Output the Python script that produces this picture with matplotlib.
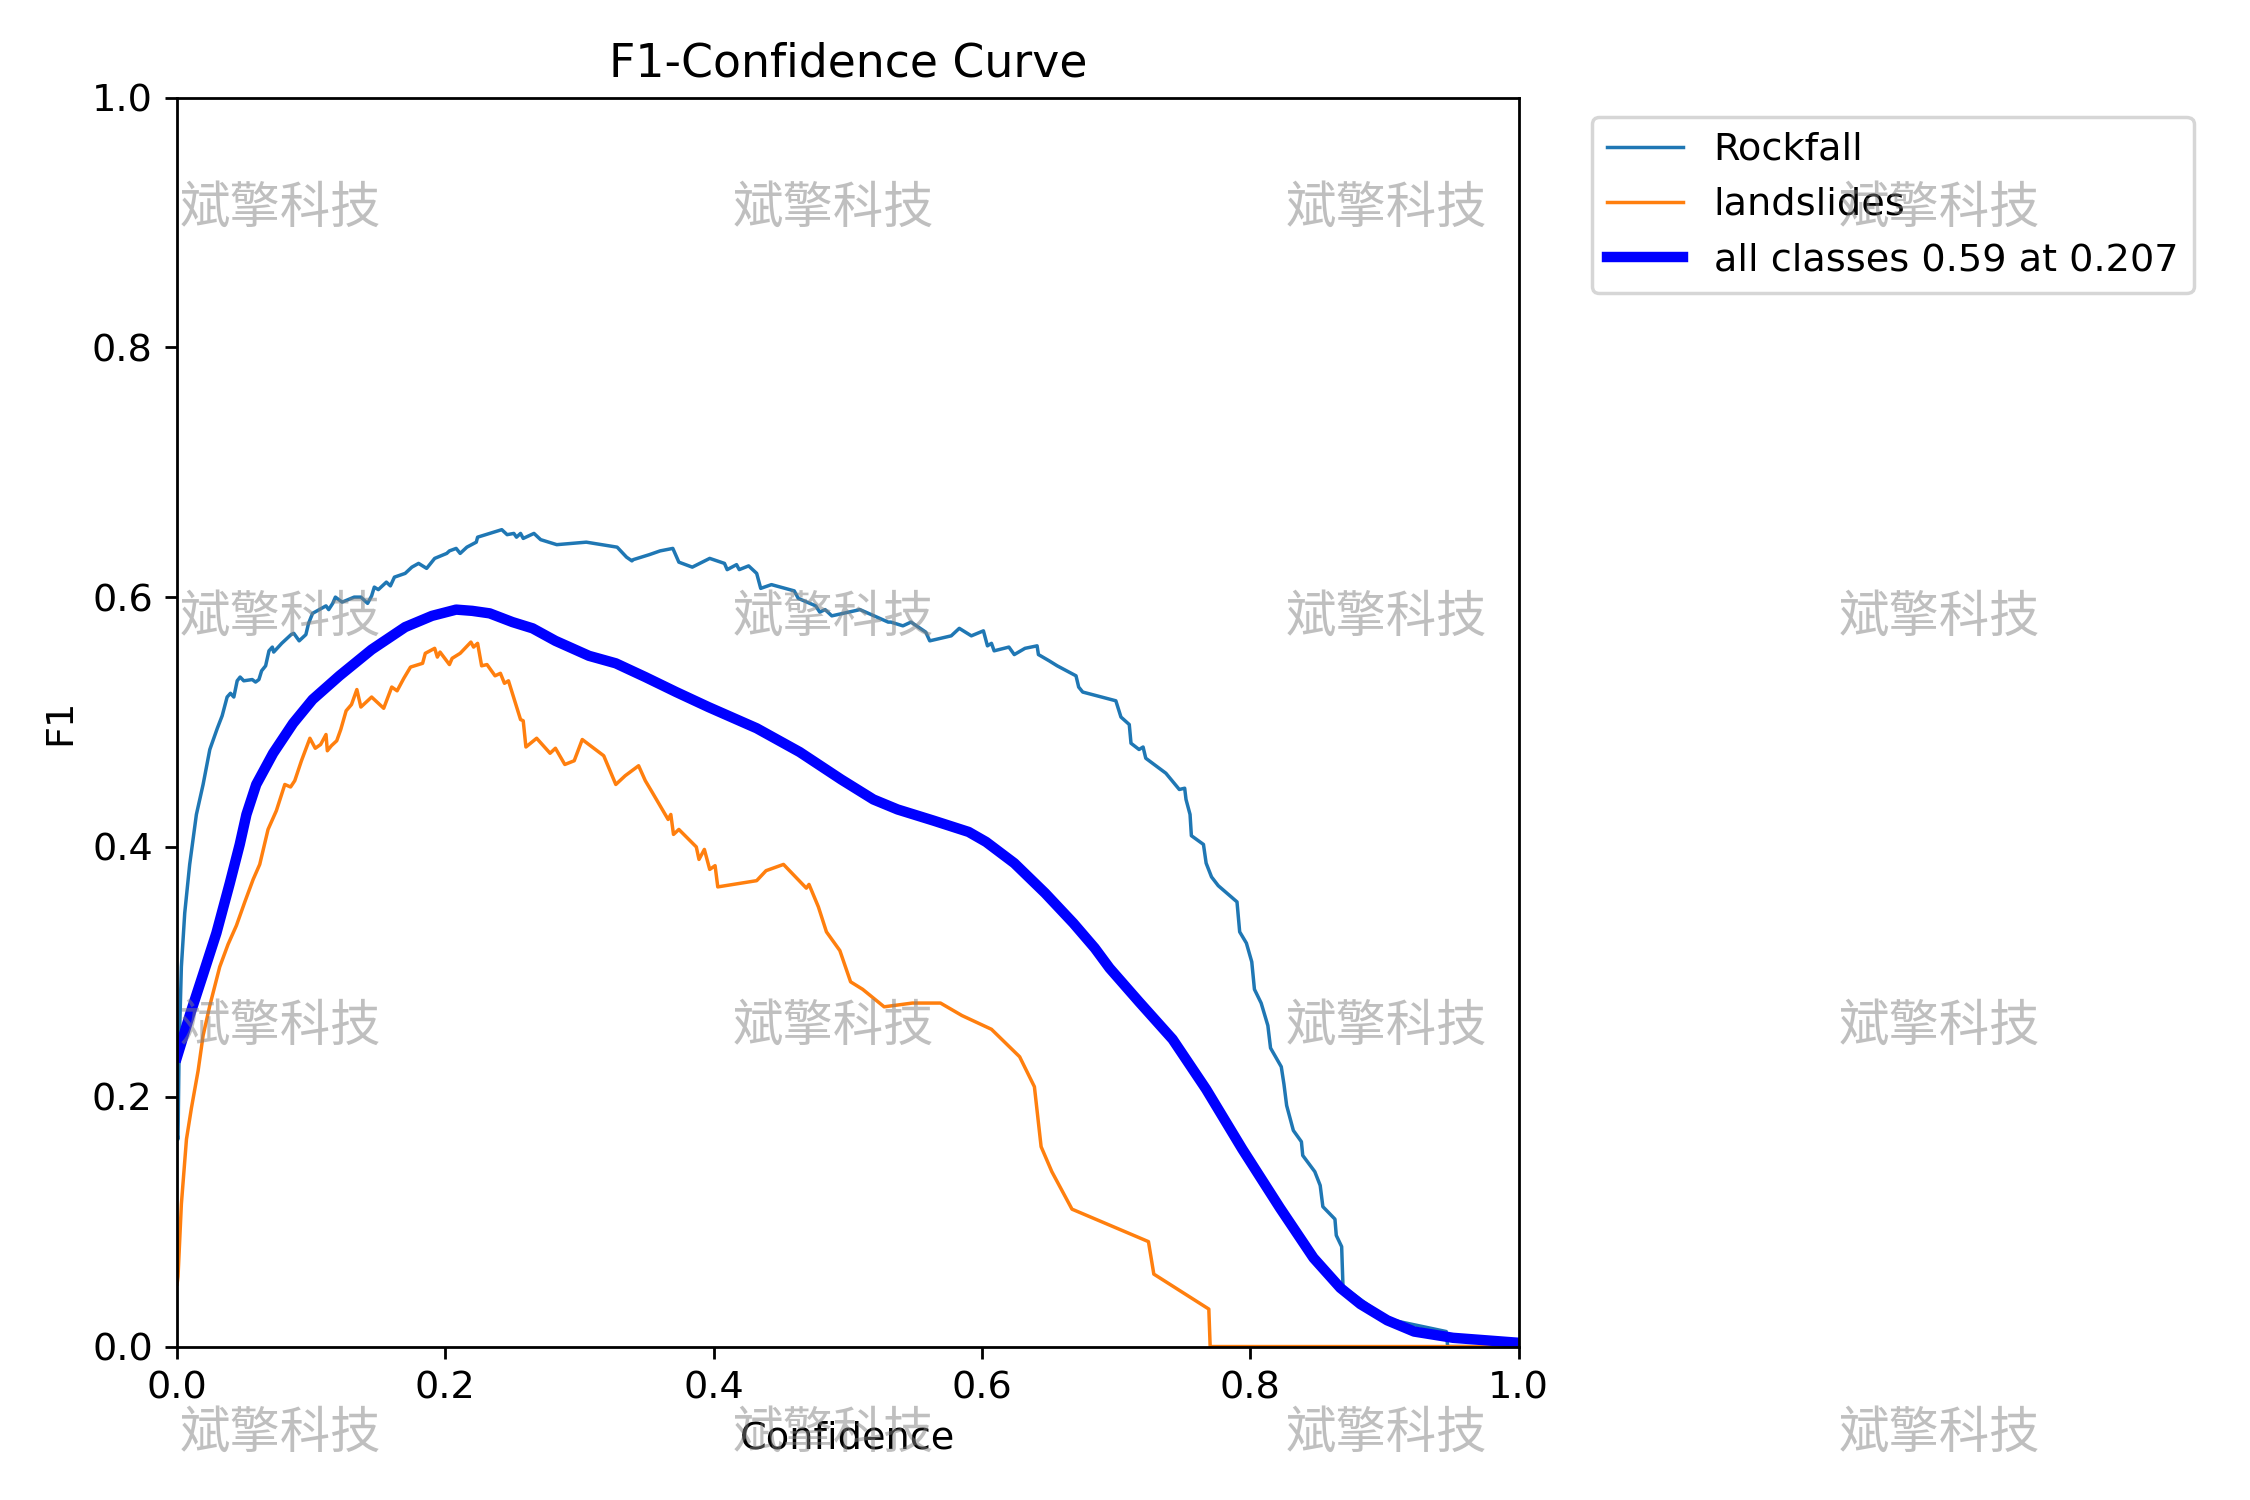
import numpy as np
import matplotlib
matplotlib.use("Agg")
import matplotlib.pyplot as plt

rock_x = [0.0, 0.0007, 0.0015, 0.0032, 0.0057, 0.0094, 0.0144, 0.0194, 0.0244, 0.0300, 0.0336,
          0.0373, 0.0398, 0.0423,
          0.0448, 0.047, 0.0497, 0.056, 0.0585, 0.061, 0.063, 0.066, 0.0685, 0.071, 0.072, 0.078,
          0.085, 0.087, 0.091, 0.096, 0.098, 0.101, 0.106, 0.111, 0.113, 0.116, 0.118, 0.123,
          0.132, 0.137, 0.142, 0.145, 0.147, 0.150, 0.156, 0.159, 0.162, 0.170, 0.175, 0.180,
          0.186, 0.192, 0.201, 0.203, 0.208, 0.211, 0.216, 0.223, 0.224, 0.233, 0.242, 0.246,
          0.251, 0.253, 0.256, 0.258, 0.266, 0.271, 0.283, 0.305, 0.328, 0.335, 0.339, 0.340,
          0.352, 0.360, 0.3695, 0.374, 0.384, 0.397, 0.408, 0.410, 0.417, 0.419, 0.426, 0.432,
          0.435, 0.443, 0.460, 0.463, 0.476, 0.479, 0.483, 0.488, 0.509, 0.530, 0.532, 0.541,
          0.547, 0.558, 0.561, 0.577, 0.583, 0.592, 0.601, 0.604, 0.607, 0.609, 0.620, 0.624,
          0.632, 0.641, 0.642, 0.650, 0.656, 0.670, 0.672, 0.675, 0.6997, 0.7035, 0.7097, 0.711,
          0.717, 0.720, 0.722, 0.737, 0.747, 0.751, 0.752, 0.755, 0.756, 0.765, 0.767, 0.771,
          0.776, 0.790, 0.792, 0.797, 0.801, 0.803, 0.808, 0.813, 0.815, 0.823, 0.825, 0.827,
          0.832, 0.838, 0.839, 0.848, 0.852, 0.854, 0.863, 0.864, 0.868, 0.869, 0.902, 0.946,
          0.947, 1.0]
rock_y = [0.17, 0.166, 0.237, 0.304, 0.347, 0.386, 0.426, 0.450, 0.478, 0.495, 0.505, 0.520,
          0.523, 0.520,
          0.533, 0.536, 0.533, 0.534, 0.532, 0.534, 0.541, 0.545, 0.557, 0.560, 0.556, 0.563,
          0.570, 0.571, 0.565, 0.570, 0.579, 0.587, 0.590, 0.593, 0.590, 0.595, 0.600, 0.596,
          0.600, 0.600, 0.595, 0.601, 0.608, 0.606, 0.612, 0.609, 0.616, 0.619, 0.624, 0.627,
          0.623, 0.631, 0.635, 0.637, 0.639, 0.635, 0.640, 0.644, 0.648, 0.651, 0.654, 0.650,
          0.651, 0.648, 0.651, 0.647, 0.651, 0.646, 0.642, 0.644, 0.640, 0.632, 0.629, 0.630,
          0.634, 0.637, 0.639, 0.628, 0.624, 0.631, 0.627, 0.622, 0.626, 0.622, 0.625, 0.619,
          0.607, 0.610, 0.605, 0.599, 0.593, 0.588, 0.590, 0.585, 0.590, 0.580, 0.580, 0.577,
          0.580, 0.572, 0.565, 0.569, 0.575, 0.569, 0.573, 0.561, 0.563, 0.557, 0.560, 0.554,
          0.559, 0.561, 0.554, 0.549, 0.545, 0.537, 0.528, 0.524, 0.517, 0.504, 0.498, 0.483,
          0.478, 0.480, 0.471, 0.459, 0.446, 0.447, 0.438, 0.426, 0.409, 0.402, 0.387, 0.376,
          0.369, 0.356, 0.332, 0.323, 0.308, 0.286, 0.275, 0.257, 0.239, 0.224, 0.210, 0.193,
          0.173, 0.164, 0.153, 0.140, 0.129, 0.112, 0.102, 0.089, 0.080, 0.048, 0.022, 0.012,
          0.0, 0.0]

land_x = [0.0, 0.0007, 0.0032, 0.007, 0.0107, 0.0157, 0.0194, 0.0244, 0.0318, 0.038, 0.0442,
          0.0505, 0.0567, 0.0616, 0.0678, 0.074, 0.0803, 0.0846, 0.0877, 0.0927,
          0.099, 0.103, 0.107, 0.111, 0.112, 0.115, 0.119, 0.122, 0.126, 0.130, 0.134,
          0.137, 0.145, 0.154, 0.160, 0.164, 0.169, 0.174, 0.183, 0.185, 0.192, 0.194, 0.196,
          0.203, 0.205, 0.211, 0.219, 0.221, 0.224, 0.227, 0.231, 0.237, 0.241, 0.244, 0.247,
          0.256, 0.258, 0.260, 0.268, 0.278, 0.282, 0.289, 0.296, 0.302, 0.318, 0.327, 0.334,
          0.344, 0.349, 0.354, 0.366, 0.368, 0.370, 0.374, 0.387, 0.389, 0.393, 0.397, 0.401,
          0.403, 0.432, 0.439, 0.452, 0.469, 0.471, 0.478, 0.484, 0.494, 0.502, 0.511, 0.527,
          0.548, 0.569, 0.585, 0.607, 0.628, 0.639, 0.644, 0.652, 0.656, 0.667, 0.724, 0.728,
          0.769, 0.770, 1.0]
land_y = [0.05, 0.056, 0.114, 0.166, 0.191, 0.221, 0.249, 0.273, 0.304, 0.322, 0.337,
          0.356, 0.374, 0.386, 0.414, 0.429, 0.450, 0.448, 0.453, 0.469,
          0.487, 0.479, 0.482, 0.490, 0.477, 0.481, 0.485, 0.494, 0.509, 0.514, 0.526,
          0.512, 0.520, 0.511, 0.528, 0.525, 0.535, 0.544, 0.547, 0.555, 0.559, 0.552, 0.556,
          0.546, 0.551, 0.555, 0.564, 0.560, 0.563, 0.545, 0.546, 0.537, 0.539, 0.531, 0.533,
          0.502, 0.501, 0.480, 0.487, 0.475, 0.479, 0.466, 0.469, 0.486, 0.473, 0.450, 0.457,
          0.465, 0.453, 0.444, 0.422, 0.426, 0.410, 0.414, 0.400, 0.390, 0.398, 0.382, 0.385,
          0.368, 0.373, 0.381, 0.386, 0.367, 0.370, 0.352, 0.332, 0.317, 0.292, 0.286, 0.272,
          0.275, 0.275, 0.265, 0.254, 0.232, 0.208, 0.160, 0.140, 0.132, 0.110, 0.084, 0.058,
          0.030, 0.0, 0.0]

all_x = [0.0, 0.0094, 0.0194, 0.0293, 0.0393, 0.0467, 0.0517, 0.059, 0.0716, 0.0865, 0.101, 0.121,
         0.145, 0.170, 0.190, 0.208, 0.220, 0.233, 0.250, 0.265, 0.282, 0.307, 0.327, 0.349,
         0.372, 0.396, 0.432, 0.464, 0.495, 0.519, 0.537, 0.564, 0.590, 0.603, 0.624, 0.647,
         0.668, 0.684, 0.695, 0.717, 0.742, 0.767, 0.794, 0.822, 0.847, 0.867, 0.882, 0.902,
         0.922, 0.951, 1.0]
all_y = [0.232, 0.265, 0.298, 0.331, 0.371, 0.402, 0.426, 0.450, 0.475, 0.499, 0.518, 0.537,
         0.558, 0.576, 0.585, 0.590, 0.589, 0.587, 0.580, 0.575, 0.565, 0.553, 0.547, 0.536,
         0.524, 0.512, 0.495, 0.476, 0.454, 0.438, 0.430, 0.421, 0.412, 0.404, 0.387, 0.363,
         0.339, 0.319, 0.303, 0.276, 0.246, 0.206, 0.158, 0.111, 0.071, 0.047, 0.034, 0.021,
         0.012, 0.007, 0.003]

names = ["Rockfall", "landslides"]
best_f1 = 0.59
best_conf = 0.207
watermark = "斌擎科技"

plt.rcParams["font.size"] = 11

fig, ax = plt.subplots(1, 1, figsize=(9, 6))
fig.subplots_adjust(left=0.0787, right=0.675, bottom=0.1023, top=0.935)

ax.plot(rock_x, rock_y, linewidth=1, label=names[0])
ax.plot(land_x, land_y, linewidth=1, label=names[1])
ax.plot(all_x, all_y, linewidth=3, color="blue",
        label=f"all classes {best_f1:.2f} at {best_conf:.3f}")

ax.set_xlabel("Confidence")
ax.set_ylabel("F1")
ax.set_xlim(0, 1)
ax.set_ylim(0, 1)
ax.legend(bbox_to_anchor=(1.04, 1), loc="upper left")
ax.set_title("F1-Confidence Curve")

# tiled watermark over everything
for fy in [0.8605, 0.588, 0.3156, 0.044]:
    for fx in [0.1246, 0.3704, 0.6163, 0.862]:
        fig.text(fx, fy, watermark, ha="center", va="center", fontsize=14.5,
                 family=["Noto Sans CJK SC", "DejaVu Sans"], color="gray",
                 alpha=0.5, zorder=10)

fig.savefig("out.png", dpi=250)
